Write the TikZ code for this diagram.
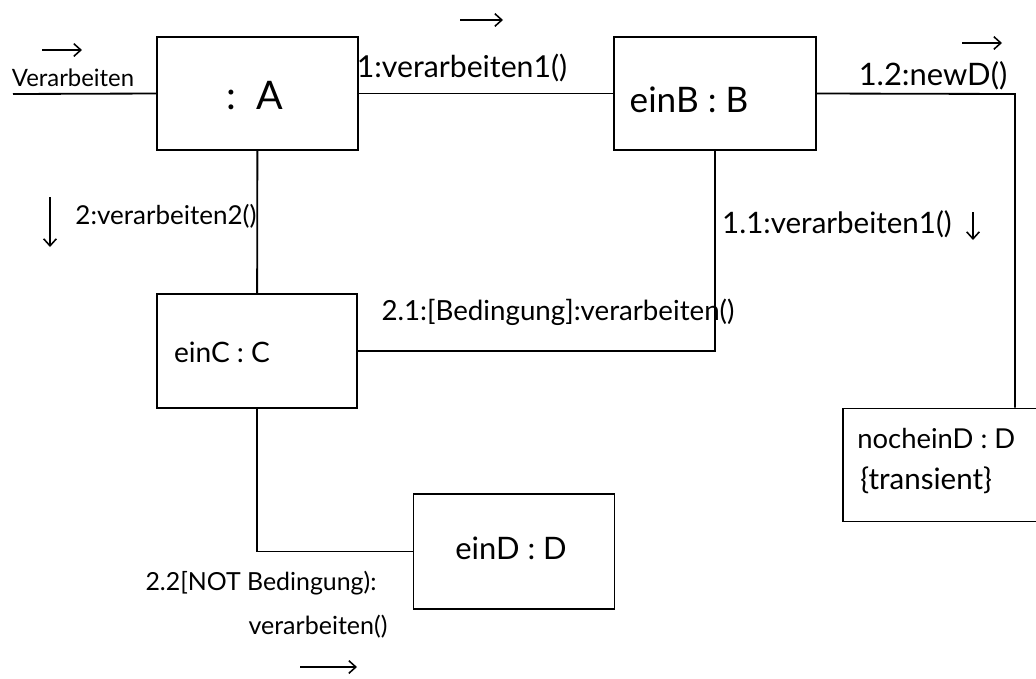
\documentclass[tikz,border=0pt]{standalone}
\usepackage{fontspec}
\setmainfont{Lato}
\usetikzlibrary{arrows.meta}
\begin{document}
\begin{tikzpicture}[x=0.025cm,y=-0.025cm,
  obj/.style={draw, line width=1.3pt, rectangle, inner sep=0pt},
  link/.style={line width=1.3pt},
  msg/.style={font=\fontsize{#1}{#1}\selectfont, inner sep=0pt},
  msg/.default=19,
  dir/.style={line width=1.1pt, -{Straight Barb[length=5pt,width=9pt]}}]
\useasboundingbox (0,0) rectangle (1036,678);

% objects
\node[obj, minimum width=5.025cm, minimum height=2.825cm] (A) at (257.5,93.5) {};
\node[obj, minimum width=5.05cm, minimum height=2.825cm] (B) at (715,93.5) {};
\node[obj, minimum width=5cm, minimum height=2.85cm] (C) at (257,351) {};
\node[obj, minimum width=5.025cm, minimum height=2.875cm] (D1) at (514,551.5) {};
\node[obj, minimum width=5.075cm, minimum height=2.825cm] (D2) at (944.5,465) {};

\node[msg=28] (tA) at (255,96) {:\ \ A};
\node[msg=25] (tB) at (689,100) {einB\ :\ B};
\node[msg=20] (tC) at (222,352) {einC :  C};
\node[msg=22] (tD1) at (511,548) {einD : D};
\node[msg=19.5, anchor=west] (tD2a) at (857,438) {nocheinD : D};
\node[msg=21, anchor=west] (tD2b) at (860,480) {\{transient\}};

% links
\coordinate (in) at (13,94);
\coordinate (bd) at (1015,94);
\draw[link] (in) -- (A.west);
\draw[link] (A) -- (B);
\draw[link] (B.east) -- (bd) -- (bd |- D2.north);
\draw[link] (A) -- (C);
\draw[link] (B.south) |- (C.east);
\draw[link] (C.south) |- (D1.west);

% messages
\node[msg=17] (m0) at (73,78) {Verarbeiten};
\node[msg=21.5] (m1) at (462,68) {1:verarbeiten1()};
\node[msg=22] (m12) at (933,76) {1.2:newD()};
\node[msg=18.5] (m2) at (166,216) {2:verarbeiten2()};
\node[msg=21] (m11) at (837,224) {1.1:verarbeiten1()};
\node[msg=19.7] (m21) at (558,312) {2.1:[Bedingung]:verarbeiten()};
\node[msg=17.7] (m22a) at (261,583) {2.2[NOT Bedingung):};
\node[msg=17.8] (m22b) at (318,627) {verarbeiten()};

% message directions
\coordinate (a0s) at (42,50);  \coordinate (a0e) at (82,50);
\coordinate (a1s) at (460,20); \coordinate (a1e) at (503,20);
\coordinate (a12s) at (962,43); \coordinate (a12e) at (1002,43);
\coordinate (a2s) at (50,197); \coordinate (a2e) at (50,247);
\coordinate (a11s) at (973,212); \coordinate (a11e) at (973,240);
\coordinate (a22s) at (300,667); \coordinate (a22e) at (357,667);
\draw[dir] (a0s) -- (a0e);
\draw[dir] (a1s) -- (a1e);
\draw[dir] (a12s) -- (a12e);
\draw[dir] (a2s) -- (a2e);
\draw[dir] (a11s) -- (a11e);
\draw[dir] (a22s) -- (a22e);
\end{tikzpicture}
\end{document}
